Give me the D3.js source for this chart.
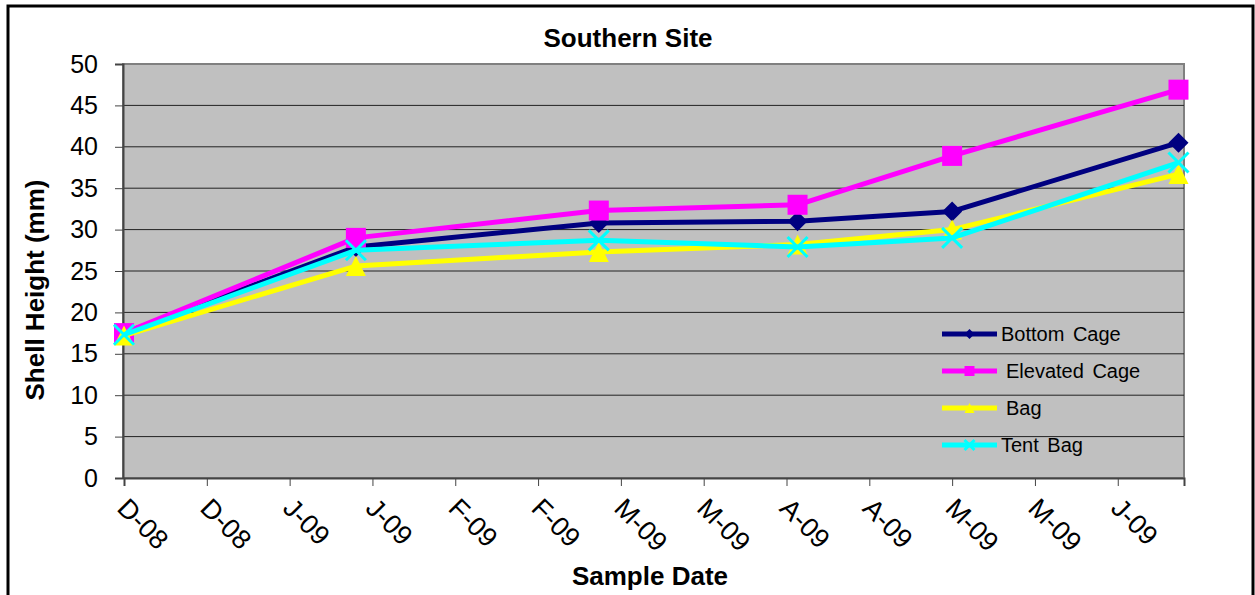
<!DOCTYPE html>
<html>
<head>
<meta charset="utf-8">
<script src="https://cdn.jsdelivr.net/npm/d3@7"></script>
<style>
  body { margin: 0; background: #fff; }
  svg { display: block; font-family: "Liberation Sans", Arial, sans-serif; }
</style>
</head>
<body>
<svg id="chart" width="1255" height="595"></svg>
<script>
// Southern Site shell growth
const sampleDates = ["2008-12-05", "2009-01-16", "2009-03-01", "2009-04-06", "2009-05-04", "2009-06-14"];
const bottomCage   = [17.5, 27.9, 30.8, 31.0, 32.2, 40.5];
const elevatedCage = [17.5, 29.0, 32.3, 33.0, 38.9, 46.9];
const bag          = [17.2, 25.6, 27.3, 28.2, 30.0, 36.7];
const tentBag      = [17.3, 27.5, 28.7, 27.9, 29.0, 38.1];
const seriesNames  = ["Bottom Cage", "Elevated Cage", "Bag", "Tent Bag"];
const tickDates = ["2008-12-05", "2008-12-20", "2009-01-04", "2009-01-19", "2009-02-03", "2009-02-18",
                   "2009-03-05", "2009-03-20", "2009-04-04", "2009-04-19", "2009-05-04", "2009-05-19", "2009-06-03"];
const yTicks = [0, 5, 10, 15, 20, 25, 30, 35, 40, 45, 50];

const parse = d3.timeParse("%Y-%m-%d");
const svg = d3.select("#chart");
const pLeft = 123, pRight = 1184, pTop = 64, pBottom = 478;

// outer frame
svg.append("rect")
  .attr("x", 8).attr("y", 6).attr("width", 1245).attr("height", 600)
  .attr("fill", "none").attr("stroke", "#000").attr("stroke-width", 3);

var x = d3.scaleTime()
  .domain([parse("2008-12-05"), parse("2009-06-15")])
  .range([pLeft + 1, pRight]);
var y = d3.scaleLinear().domain([0, 50]).range([pBottom, pTop]);

// plot area
svg.append("rect")
  .attr("x", pLeft).attr("y", pTop)
  .attr("width", pRight - pLeft).attr("height", pBottom - pTop)
  .attr("fill", "#c0c0c0").attr("stroke", "#808080").attr("stroke-width", 2);

// gridlines
svg.append("g").selectAll("line")
  .data(yTicks.slice(1, -1)).join("line")
  .attr("x1", pLeft).attr("x2", pRight)
  .attr("y1", d => y(d)).attr("y2", d => y(d))
  .attr("stroke", "#222").attr("stroke-width", 1);

// y axis
var yAxis = svg.append("g")
  .attr("transform", "translate(" + pLeft + ",0)")
  .call(d3.axisLeft(y).tickValues(yTicks).tickSize(8).tickPadding(17));
yAxis.select(".domain").attr("stroke", "#444").attr("stroke-width", 2);
yAxis.selectAll(".tick line").attr("stroke", "#444");
yAxis.selectAll("text").attr("font-size", 25).attr("fill", "#000")
  .attr("font-family", "Liberation Sans, Arial, sans-serif");

// x axis
var monthLetter = d3.timeFormat("%b"), yr = d3.timeFormat("%y");
var xAxis = svg.append("g")
  .attr("transform", "translate(0," + pBottom + ")")
  .call(d3.axisBottom(x).tickValues(tickDates.map(parse)).tickSize(8)
    .tickFormat(d => monthLetter(d)[0] + "-" + yr(d)));
xAxis.select(".domain").attr("stroke", "#444").attr("stroke-width", 2);
xAxis.selectAll(".tick line").attr("stroke", "#444");
xAxis.selectAll("text")
  .attr("font-size", 27).attr("fill", "#000")
  .attr("font-family", "Liberation Sans, Arial, sans-serif")
  .attr("text-anchor", "start")
  .attr("x", 0).attr("y", 0).attr("dy", "0.35em")
  .attr("transform", "translate(-2,25) rotate(45)");

// titles
svg.append("text").attr("x", 628).attr("y", 47)
  .attr("text-anchor", "middle").attr("font-weight", "bold").attr("font-size", 26)
  .text("Southern Site");
svg.append("text").attr("x", 650).attr("y", 585)
  .attr("text-anchor", "middle").attr("font-weight", "bold").attr("font-size", 26)
  .text("Sample Date");
svg.append("text")
  .attr("transform", "translate(44,290) rotate(-90)")
  .attr("text-anchor", "middle").attr("font-weight", "bold").attr("font-size", 26)
  .text("Shell Height (mm)");

// series
var colors = ["#000080", "#ff00ff", "#ffff00", "#00ffff"];
var shapes = ["diamond", "square", "triangle", "cross"];
var allValues = [bottomCage, elevatedCage, bag, tentBag];

function marker(g, shape, color, s){
  if (shape == "diamond") {
    g.append("path").attr("d", "M0," + (-s) + "L" + s + ",0L0," + s + "L" + (-s) + ",0Z").attr("fill", color);
  } else if (shape == "square") {
    g.append("rect").attr("x", -s).attr("y", -s).attr("width", 2 * s).attr("height", 2 * s).attr("fill", color);
  } else if (shape == "triangle") {
    g.append("path").attr("d", "M0," + (-s) + "L" + s + "," + s + "L" + (-s) + "," + s + "Z").attr("fill", color);
  } else {
    g.append("path").attr("d", "M" + (-s) + "," + (-s) + "L" + s + "," + s + "M" + s + "," + (-s) + "L" + (-s) + "," + s)
      .attr("stroke", color).attr("stroke-width", 3).attr("fill", "none");
  }
}

var line = d3.line().x(d => x(d.date)).y(d => y(d.v));
allValues.forEach(function(vals, i){
  var pts = vals.map((v, j) => ({date: parse(sampleDates[j]), v: v}));
  svg.append("path").datum(pts)
    .attr("d", line).attr("fill", "none")
    .attr("stroke", colors[i]).attr("stroke-width", 5).attr("stroke-linejoin", "round");
  pts.forEach(function(p){
    var g = svg.append("g").attr("transform", "translate(" + x(p.date) + "," + y(p.v) + ")");
    marker(g, shapes[i], colors[i], 10);
  });
});

// legend
var legendY = [334, 371, 408, 445];
var legendTextX = [1001, 1006, 1006, 1001];
seriesNames.forEach(function(name, i){
  svg.append("line")
    .attr("x1", 942).attr("x2", 997)
    .attr("y1", legendY[i]).attr("y2", legendY[i])
    .attr("stroke", colors[i]).attr("stroke-width", 5);
  var g = svg.append("g").attr("transform", "translate(969.5," + legendY[i] + ")");
  marker(g, shapes[i], colors[i], 5);
  svg.append("text")
    .attr("x", legendTextX[i]).attr("y", legendY[i]).attr("dy", "0.35em")
    .attr("font-size", 20).attr("word-spacing", 3)
    .text(name);
});
</script>
</body>
</html>
